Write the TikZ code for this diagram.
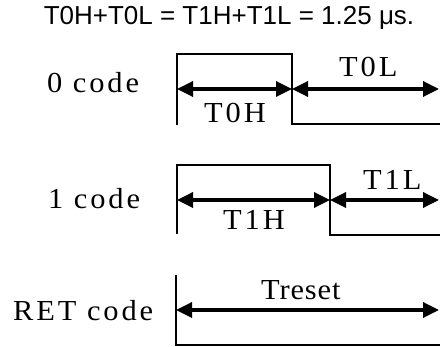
\documentclass[tikz,border=0pt]{standalone}
\usepackage{fontspec}
\setmainfont{Liberation Serif}
\newfontfamily\titlefont{Liberation Sans}
\newfontfamily\lblfont[FakeStretch=1.05,LetterSpace=10]{Liberation Serif}
\newfontfamily\lbltightfont[FakeStretch=1.05,LetterSpace=3]{Liberation Serif}
\usetikzlibrary{arrows.meta}
\begin{document}
\begin{tikzpicture}[x=1pt,y=-1pt,
  wave/.style={line width=2.4pt,line join=miter},
  dimarrow/.style={line width=3.4pt,{Triangle[length=16pt,width=15pt]}-{Triangle[length=16pt,width=15pt]}},
  lbl/.style={inner sep=0pt,anchor=base west,font=\lblfont\fontsize{29}{32}\selectfont},
  lbltight/.style={inner sep=0pt,anchor=base west,font=\lbltightfont\fontsize{29}{32}\selectfont},
]
\useasboundingbox (0,0) rectangle (440,347);
% title
\node[inner sep=0pt,font=\titlefont\fontsize{26}{28}\selectfont] (title) at (229,18) {T0H+T0L = T1H+T1L = 1.25 μs.};
% labels
\node[lbl] (l0) at (47,93) {0 code};
\node[lbl] (l1) at (48,209) {1 code};
\node[lbl] (lret) at (13,321) {RET code};
\node[lbl] (t0l) at (339,77) {T0L};
\node[lbl] (t0h) at (204,123) {T0H};
\node[lbl] (t1l) at (363,190) {T1L};
\node[lbl] (t1h) at (223,230) {T1H};
\node[lbltight] (treset) at (261,300) {Treset};
% 0 code waveform
\coordinate (a0) at (177,125);
\coordinate (b0) at (177,54);
\coordinate (c0) at (292,54);
\coordinate (d0) at (292,124);
\coordinate (e0) at (440,124);
\draw[wave] (a0) -- (b0) -- (c0) -- (d0) -- (e0);
\coordinate (p0) at (177,89);
\coordinate (q0) at (292,89);
\coordinate (r0) at (439,89);
\draw[dimarrow] (p0) -- (q0);
\draw[dimarrow] (q0) -- (r0);
% 1 code waveform
\coordinate (a1) at (177,234);
\coordinate (b1) at (177,165);
\coordinate (c1) at (330,165);
\coordinate (d1) at (330,235);
\coordinate (e1) at (440,235);
\draw[wave] (a1) -- (b1) -- (c1) -- (d1) -- (e1);
\coordinate (p1) at (177,200);
\coordinate (q1) at (330,200);
\coordinate (r1) at (439,200);
\draw[dimarrow] (p1) -- (q1);
\draw[dimarrow] (q1) -- (r1);
% RET code
\coordinate (a2) at (176,275);
\coordinate (b2) at (176,345);
\coordinate (c2) at (440,345);
\draw[wave] (a2) -- (b2) -- (c2);
\coordinate (p2) at (176,310);
\coordinate (r2) at (439,310);
\draw[dimarrow] (p2) -- (r2);
\end{tikzpicture}
\end{document}
